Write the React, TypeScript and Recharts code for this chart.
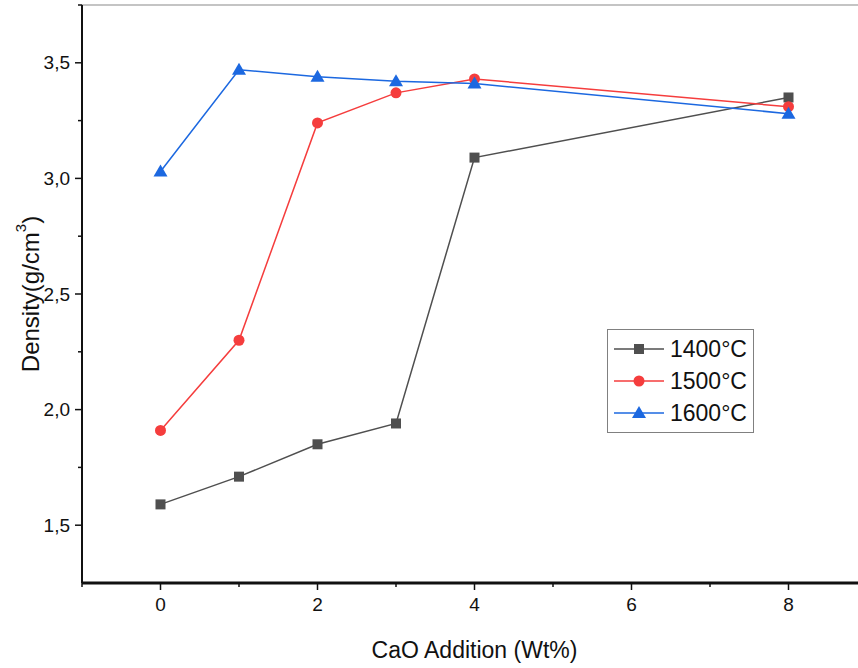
import { LineChart, Line, XAxis, YAxis, Legend, ReferenceLine } from "recharts";

// CaO addition (wt%) and density (g/cm3) at each sintering temperature
const cao = [0, 1, 2, 3, 4, 8];
const d1400 = [1.59, 1.71, 1.85, 1.94, 3.09, 3.35];
const d1500 = [1.91, 2.3, 3.24, 3.37, 3.43, 3.31];
const d1600 = [3.03, 3.47, 3.44, 3.42, 3.41, 3.28];

const yMajor = [1.5, 2, 2.5, 3, 3.5];
const yMinor = [1.75, 2.25, 2.75, 3.25, 3.75];
const xMajor = [0, 2, 4, 6, 8];
const xMinor = [-1, 1, 3, 5, 7, 9];

const data = cao.map((x, i) => ({ x, t1400: d1400[i], t1500: d1500[i], t1600: d1600[i] }));

const series = [
  { key: "t1400", name: "1400°C", color: "#4f4f4f", marker: "square" },
  { key: "t1500", name: "1500°C", color: "#f53d3d", marker: "circle" },
  { key: "t1600", name: "1600°C", color: "#1c68e0", marker: "triangle" },
];

const FONT = "'Liberation Sans', Arial, sans-serif";
const TICK = 7;
const MARGIN_Y = 5;
const MARGIN_X = 8;

const Marker = ({ cx, cy, shape, color }: any) => {
  if (shape === "square") return <rect x={cx - 5} y={cy - 5} width={10} height={10} fill={color} />;
  if (shape === "circle") return <circle cx={cx} cy={cy} r={5.5} fill={color} />;
  return <polygon points={`${cx},${cy - 7} ${cx - 7},${cy + 5} ${cx + 7},${cy + 5}`} fill={color} />;
};

const comma = (v: number) => v.toFixed(1).replace(".", ",");

// major ticks get a label and a long tick, minor ones only a short tick
const YTick = ({ x, y, payload }: any) => {
  const ax = x + MARGIN_Y + TICK;
  const major = yMajor.includes(payload.value);
  return (
    <g>
      <line x1={ax - (major ? TICK : 4)} x2={ax} y1={y} y2={y} stroke="#111" strokeWidth={1.5} />
      {major && (
        <text x={x} y={y} textAnchor="end" dominantBaseline="central" fontSize={19} fontFamily={FONT} fill="#111">
          {comma(payload.value)}
        </text>
      )}
    </g>
  );
};

const XTick = ({ x, y, payload }: any) => {
  const ay = y - MARGIN_X - TICK;
  const major = xMajor.includes(payload.value);
  return (
    <g>
      <line x1={x} x2={x} y1={ay} y2={ay + (major ? TICK : 4)} stroke="#111" strokeWidth={1.5} />
      {major && (
        <text x={x} y={y} dy="0.71em" textAnchor="middle" fontSize={19} fontFamily={FONT} fill="#111">
          {payload.value}
        </text>
      )}
    </g>
  );
};

const YTitle = ({ viewBox }: any) => {
  const x = viewBox.x + 30;
  const y = viewBox.y + viewBox.height / 2;
  return (
    <text x={x} y={y} transform={`rotate(-90, ${x}, ${y})`} textAnchor="middle" dominantBaseline="central"
      fontSize={24} fontFamily={FONT} fill="#111">
      <tspan>Density(g/cm</tspan>
      <tspan fontSize={15} dy={-10}>3</tspan>
      <tspan dy={10}>)</tspan>
    </text>
  );
};

const LegendBox = () => (
  <div style={{ border: "1.5px solid #808080", background: "#fff", padding: "3px 6px 3px 4px", fontFamily: FONT }}>
    {series.map((s) => (
      <div key={s.key} style={{ display: "flex", alignItems: "center", height: 32 }}>
        <svg width={54} height={20}>
          <line x1={2} y1={10} x2={52} y2={10} stroke={s.color} strokeWidth={1.5} />
          <Marker cx={27} cy={10} shape={s.marker} color={s.color} />
        </svg>
        <span style={{ fontSize: 23, color: "#111", marginLeft: 4 }}>{s.name}</span>
      </div>
    ))}
  </div>
);

const xTicks = [...xMajor, ...xMinor].sort((a, b) => a - b);
const yTicks = [...yMajor, ...yMinor].sort((a, b) => a - b);

export default function App() {
  return (
    <div style={{ position: "absolute", left: 0, top: 0, width: 858, height: 668, overflow: "hidden", background: "#fff" }}>
      <LineChart width={870} height={668} data={data} margin={{ top: 5, right: 3, bottom: 0, left: 0 }}>
        <XAxis dataKey="x" type="number" domain={[-1, 9]} ticks={xTicks} interval={0} allowDataOverflow
          axisLine={{ stroke: "#111", strokeWidth: 3 }} tickLine={false}
          tickSize={TICK} tickMargin={MARGIN_X} height={85} tick={<XTick />}
          label={{ value: "CaO Addition (Wt%)", position: "insideBottom", offset: 10, fontSize: 23, fill: "#111", fontFamily: FONT }} />
        <YAxis type="number" domain={[1.25, 3.75]} ticks={yTicks} interval={0} allowDataOverflow width={82}
          axisLine={{ stroke: "#111", strokeWidth: 2 }} tickLine={false}
          tickSize={TICK} tickMargin={MARGIN_Y} tick={<YTick />}
          label={{ content: YTitle }} />
        <ReferenceLine y={3.75} stroke="#b0b0b0" strokeWidth={1.5} />
        {series.map((s) => (
          <Line key={s.key} type="linear" dataKey={s.key} name={s.name} stroke={s.color} strokeWidth={1.5}
            isAnimationActive={false}
            dot={(p: any) => <Marker key={`${s.key}-${p.index}`} cx={p.cx} cy={p.cy} shape={s.marker} color={s.color} />}
            activeDot={false} />
        ))}
        <Legend layout="vertical" align="center" verticalAlign="middle" content={LegendBox}
          wrapperStyle={{ left: 607, top: 329, width: "auto" }} />
      </LineChart>
    </div>
  );
}
